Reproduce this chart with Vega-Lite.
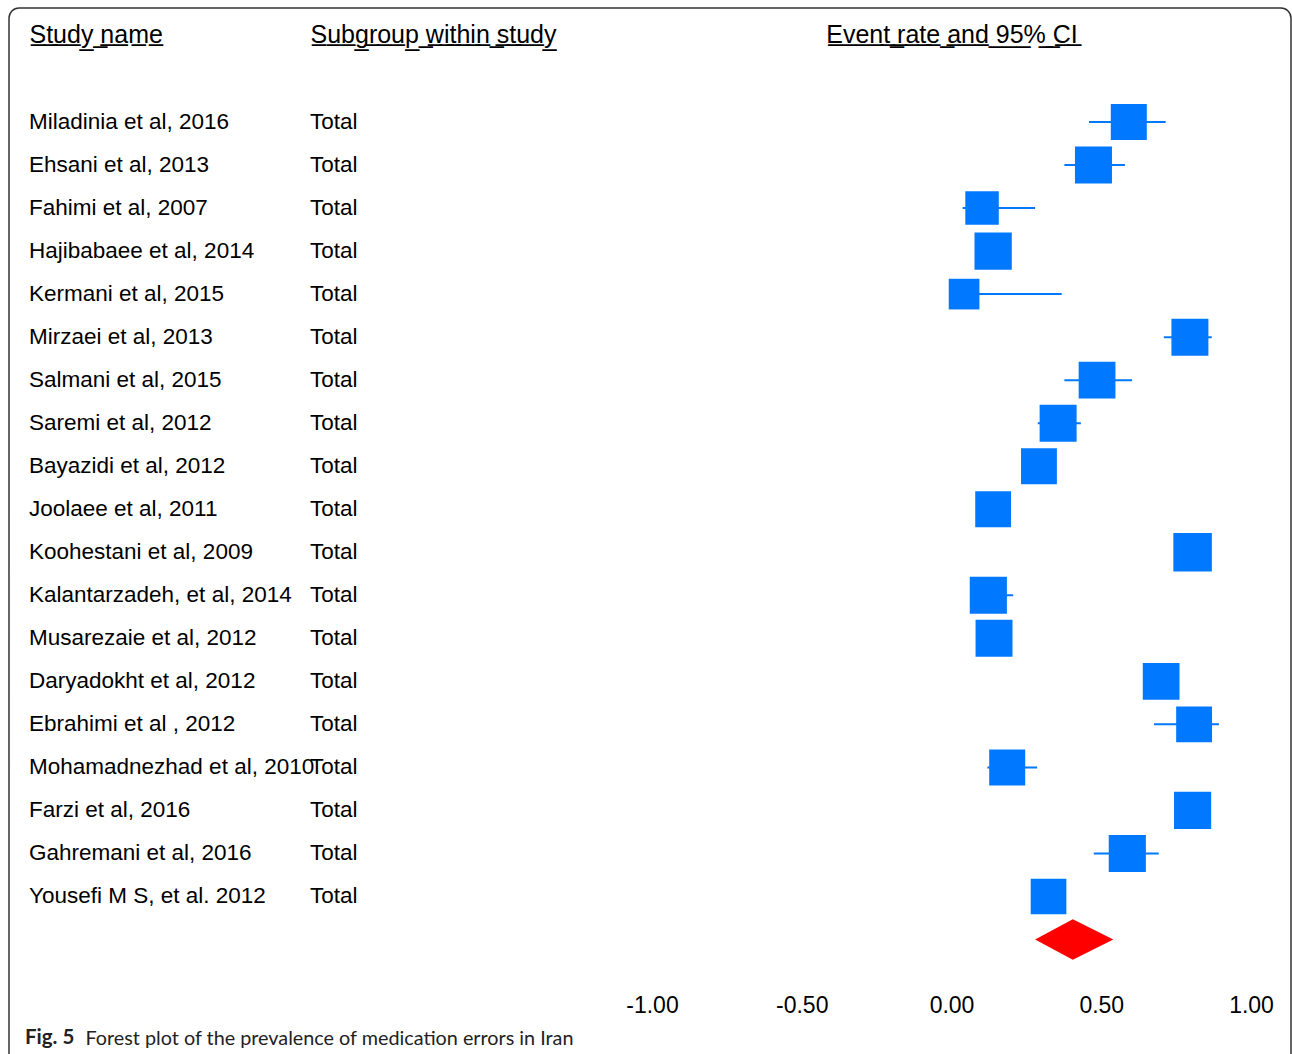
{
  "$schema": "https://vega.github.io/schema/vega-lite/v6.json",
  "autosize": {"type": "none"},
  "padding": {"left": 9, "top": 8, "right": 1, "bottom": -14},
  "width": 1282,
  "height": 1060,
  "background": "white",
  "config": {
    "view": {"stroke": "#333333", "strokeWidth": 1.5, "cornerRadius": 10},
    "font": "Liberation Sans"
  },
  "title": {
    "text": "Fig. 5",
    "orient": "bottom",
    "anchor": "start",
    "frame": "group",
    "dx": 16,
    "offset": -24,
    "baseline": "alphabetic",
    "font": "Lato",
    "fontSize": 20.5,
    "fontWeight": "bold",
    "color": "#222222"
  },
  "data": {
    "values": [
      {"kind": "study", "study": "Miladinia et al, 2016", "subgroup": "Total", "rate": 0.592, "lower": 0.459, "upper": 0.715, "weight": 5.19},
      {"kind": "study", "study": "Ehsani et al, 2013", "subgroup": "Total", "rate": 0.474, "lower": 0.377, "upper": 0.579, "weight": 5.48},
      {"kind": "study", "study": "Fahimi et al, 2007", "subgroup": "Total", "rate": 0.102, "lower": 0.037, "upper": 0.279, "weight": 4.49},
      {"kind": "study", "study": "Hajibabaee et al, 2014", "subgroup": "Total", "rate": 0.139, "lower": 0.10, "upper": 0.18, "weight": 5.57},
      {"kind": "study", "study": "Kermani et al, 2015", "subgroup": "Total", "rate": 0.042, "lower": 0.01, "upper": 0.368, "weight": 3.77},
      {"kind": "study", "study": "Mirzaei et al, 2013", "subgroup": "Total", "rate": 0.796, "lower": 0.709, "upper": 0.869, "weight": 5.48},
      {"kind": "study", "study": "Salmani et al, 2015", "subgroup": "Total", "rate": 0.486, "lower": 0.377, "upper": 0.603, "weight": 5.42},
      {"kind": "study", "study": "Saremi et al, 2012", "subgroup": "Total", "rate": 0.356, "lower": 0.288, "upper": 0.432, "weight": 5.48},
      {"kind": "study", "study": "Bayazidi et al, 2012", "subgroup": "Total", "rate": 0.292, "lower": 0.25, "upper": 0.34, "weight": 5.15},
      {"kind": "study", "study": "Joolaee et al, 2011", "subgroup": "Total", "rate": 0.139, "lower": 0.10, "upper": 0.18, "weight": 5.13},
      {"kind": "study", "study": "Koohestani et al, 2009", "subgroup": "Total", "rate": 0.805, "lower": 0.77, "upper": 0.84, "weight": 5.94},
      {"kind": "study", "study": "Kalantarzadeh, et al, 2014", "subgroup": "Total", "rate": 0.123, "lower": 0.07, "upper": 0.206, "weight": 5.52},
      {"kind": "study", "study": "Musarezaie  et al, 2012", "subgroup": "Total", "rate": 0.142, "lower": 0.10, "upper": 0.19, "weight": 5.47},
      {"kind": "study", "study": "Daryadokht  et al, 2012", "subgroup": "Total", "rate": 0.700, "lower": 0.66, "upper": 0.74, "weight": 5.41},
      {"kind": "study", "study": "Ebrahimi et al , 2012", "subgroup": "Total", "rate": 0.810, "lower": 0.676, "upper": 0.893, "weight": 5.15},
      {"kind": "study", "study": "Mohamadnezhad et al, 2010", "subgroup": "Total", "rate": 0.186, "lower": 0.120, "upper": 0.286, "weight": 5.19},
      {"kind": "study", "study": "Farzi   et al, 2016", "subgroup": "Total", "rate": 0.805, "lower": 0.77, "upper": 0.84, "weight": 5.53},
      {"kind": "study", "study": "Gahremani  et al, 2016", "subgroup": "Total", "rate": 0.587, "lower": 0.475, "upper": 0.692, "weight": 5.52},
      {"kind": "study", "study": "Yousefi M S, et al. 2012", "subgroup": "Total", "rate": 0.324, "lower": 0.29, "upper": 0.36, "weight": 5.09},
      {"kind": "pooled", "study": "Overall", "subgroup": "", "rate": 0.405, "lower": 0.279, "upper": 0.540, "weight": null}
    ]
  },
  "layer": [
    {
      "transform": [
        {"filter": "datum.kind === 'study'"},
        {"fold": ["study", "subgroup"], "as": ["column", "value"]}
      ],
      "mark": {"type": "text", "align": "left", "baseline": "middle", "font": "Liberation Sans", "fontSize": 22.5, "color": "#000000"},
      "encoding": {
        "x": {
          "field": "column",
          "type": "nominal",
          "sort": ["study", "subgroup"],
          "scale": {"type": "point", "range": [20, 301], "padding": 0},
          "axis": {
            "orient": "top",
            "title": null,
            "domain": false,
            "ticks": false,
            "tickSize": 0,
            "grid": false,
            "labelAngle": 0,
            "labelAlign": "left",
            "labelBaseline": "alphabetic",
            "labelPadding": -34,
            "labelLimit": 0,
            "labelOverlap": false,
            "labelFont": "Liberation Sans",
            "labelFontSize": 25,
            "labelColor": "#000000",
            "labelExpr": "datum.value === 'study' ? 'S\u0332t\u0332u\u0332d\u0332y\u0332 \u0332n\u0332a\u0332m\u0332e\u0332' : 'S\u0332u\u0332b\u0332g\u0332r\u0332o\u0332u\u0332p\u0332 \u0332w\u0332i\u0332t\u0332h\u0332i\u0332n\u0332 \u0332s\u0332t\u0332u\u0332d\u0332y\u0332'"
          }
        },
        "y": {
          "field": "study",
          "type": "nominal",
          "sort": null,
          "scale": {"type": "point", "range": [114, 931.5], "padding": 0},
          "axis": null
        },
        "text": {"field": "value"}
      }
    },
    {
      "layer": [
        {
          "transform": [{"filter": "datum.kind === 'study'"}],
          "mark": {"type": "rule", "color": "#0078ff", "strokeWidth": 2},
          "encoding": {
            "x": {
              "field": "lower",
              "type": "quantitative",
              "scale": {"domain": [-1, 1], "range": [643, 1242], "nice": false, "zero": false},
              "axis": {
                "orient": "bottom",
                "values": [-1, -0.5, 0, 0.5, 1],
                "format": ".2f",
                "labelExpr": "replace(datum.label, '\u2212', '-')",
                "domain": false,
                "ticks": false,
                "tickSize": 0,
                "grid": false,
                "labelFlush": false,
                "labelOverlap": false,
                "labelBaseline": "alphabetic",
                "labelPadding": -56,
                "labelFont": "Liberation Sans",
                "labelFontSize": 23,
                "labelColor": "#000000",
                "title": "Forest plot of the prevalence of medication errors in Iran",
                "titleX": 76,
                "titleY": -24,
                "titleAlign": "left",
                "titleBaseline": "alphabetic",
                "titleFont": "Lato",
                "titleFontSize": 19.8,
                "titleFontWeight": "normal",
                "titleColor": "#222222"
              }
            },
            "x2": {"field": "upper"},
            "y": {"field": "study", "type": "nominal", "sort": null, "axis": null}
          }
        },
        {
          "transform": [{"filter": "datum.kind === 'study'"}],
          "mark": {"type": "point", "shape": "square", "filled": true, "color": "#0078ff", "opacity": 1},
          "encoding": {
            "x": {
              "field": "rate",
              "type": "quantitative",
              "axis": {
                "orient": "top",
                "labels": false,
                "domain": false,
                "ticks": false,
                "tickSize": 0,
                "grid": false,
                "title": "E\u0332v\u0332e\u0332n\u0332t\u0332 \u0332r\u0332a\u0332t\u0332e\u0332 \u0332a\u0332n\u0332d\u0332 \u03329\u03325\u0332%\u0332 \u0332C\u0332I\u0332",
                "titleY": 34,
                "titleLimit": 0,
                "titleBaseline": "alphabetic",
                "titleFont": "Liberation Sans",
                "titleFontSize": 25,
                "titleFontWeight": "normal",
                "titleColor": "#000000"
              }
            },
            "y": {"field": "study", "type": "nominal", "sort": null, "axis": null},
            "size": {
              "field": "weight",
              "type": "quantitative",
              "scale": {"domain": [0, 6], "range": [0, 1498]},
              "legend": null
            }
          }
        },
        {
          "transform": [{"filter": "datum.kind === 'pooled'"}],
          "mark": {"type": "point", "shape": "M-0.931,0L0,-0.502L1,0L0,0.502Z", "filled": true, "color": "#ff0000", "opacity": 1, "size": 6561},
          "encoding": {
            "x": {"field": "rate", "type": "quantitative", "axis": null},
            "y": {"field": "study", "type": "nominal", "sort": null, "axis": null}
          }
        }
      ],
      "resolve": {"axis": {"x": "independent"}}
    }
  ],
  "resolve": {"scale": {"x": "independent"}}
}
